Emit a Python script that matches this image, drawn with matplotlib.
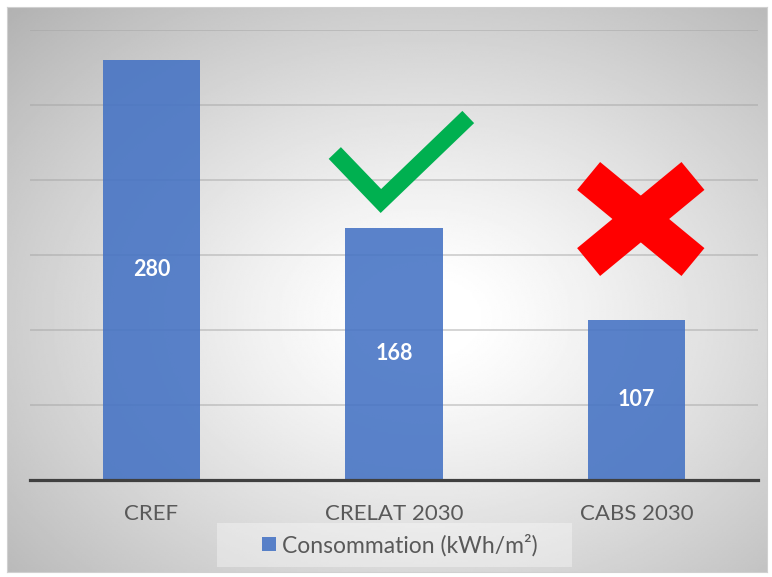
import numpy as np
import matplotlib.pyplot as plt
from matplotlib.patches import Rectangle

plt.rcParams['font.family'] = ['Lato', 'DejaVu Sans']

categories = ['CREF', 'CRELAT 2030', 'CABS 2030']
values = [280, 168, 107]
series_name = 'Consommation (kWh/m²)'

W, H = 772, 577
fig = plt.figure(figsize=(W / 100, H / 100), dpi=100)
fig.patch.set_facecolor('white')

# radial grey background of the chart area
bg = fig.add_axes([7 / W, 5 / H, 760 / W, 565 / H])
yy, xx = np.mgrid[-1:1:300j, -1:1:400j]
xx = xx - 0.1
yy = yy - 0.1
r = np.sqrt(xx ** 2 + yy ** 2)
shade = np.clip(1 - 0.2 * np.clip(r - 0.12, 0, None) ** 1.15, 0, 1)
bg.imshow(shade, cmap='gray', vmin=0, vmax=1, aspect='auto', extent=[0, 1, 0, 1])
bg.set_xticks([])
bg.set_yticks([])
for s in bg.spines.values():
    s.set_color('#d0d0d0')
    s.set_linewidth(0.8)

ax = fig.add_axes([30 / W, 97 / H, 728 / W, 450 / H])
ax.patch.set_alpha(0)
x = np.arange(len(categories))
bars = ax.bar(x, values, width=0.4, color='#4472C4', alpha=0.88, zorder=2,
              label=series_name)
ax.set_xlim(-0.5, 2.5)
ax.set_ylim(0, 300)
ax.set_yticks(np.arange(50, 301, 50))
ax.yaxis.grid(True, color='#a0a0a0', alpha=0.55, linewidth=1.1, zorder=0)
ax.set_axisbelow(True)
ax.tick_params(axis='y', length=0, labelleft=False)
ax.set_xticks(x)
ax.set_xticklabels(categories, fontsize=16, color='#595959')
ax.tick_params(axis='x', length=0, pad=17)
for side in ['left', 'right', 'top']:
    ax.spines[side].set_visible(False)
ax.spines['bottom'].set_color('#404040')
ax.spines['bottom'].set_linewidth(2.3)
ax.spines['bottom'].set_zorder(3)

for xi, v in zip(x, values):
    ax.text(xi, v / 2, str(v), ha='center', va='center', color='white',
            fontsize=15.5, fontweight='bold', zorder=4)

# green check above the second bar
ax.plot([1 - 0.244, 1 - 0.054, 1 + 0.306], [218, 186, 242], color='#00B050',
        linewidth=12.2, solid_capstyle='butt', solid_joinstyle='miter',
        clip_on=False, zorder=4)

# red cross above the third bar
cx, cy, dx, dy = 2 + 0.017, 174, 0.215, 28.7
ax.plot([cx - dx, cx + dx], [cy + dy, cy - dy], color='#FF0000', linewidth=26,
        solid_capstyle='butt', clip_on=False, zorder=4)
ax.plot([cx - dx, cx + dx], [cy - dy, cy + dy], color='#FF0000', linewidth=26,
        solid_capstyle='butt', clip_on=False, zorder=4)

# legend box (lighter panel) and legend entry
fig.patches.append(Rectangle((217 / W, (577 - 567) / H), 355 / W, 44 / H,
                             transform=fig.transFigure, facecolor='white',
                             alpha=0.35, edgecolor='none', zorder=1))
leg = fig.legend(handles=[bars], labels=[series_name], loc='center',
                 bbox_to_anchor=(400 / W, (577 - 545) / H), fontsize=16.5,
                 frameon=False, handlelength=0.6, handleheight=0.6,
                 handletextpad=0.3, borderpad=0, borderaxespad=0)
for t in leg.get_texts():
    t.set_color('#595959')

fig.savefig('out.png', dpi=100)
